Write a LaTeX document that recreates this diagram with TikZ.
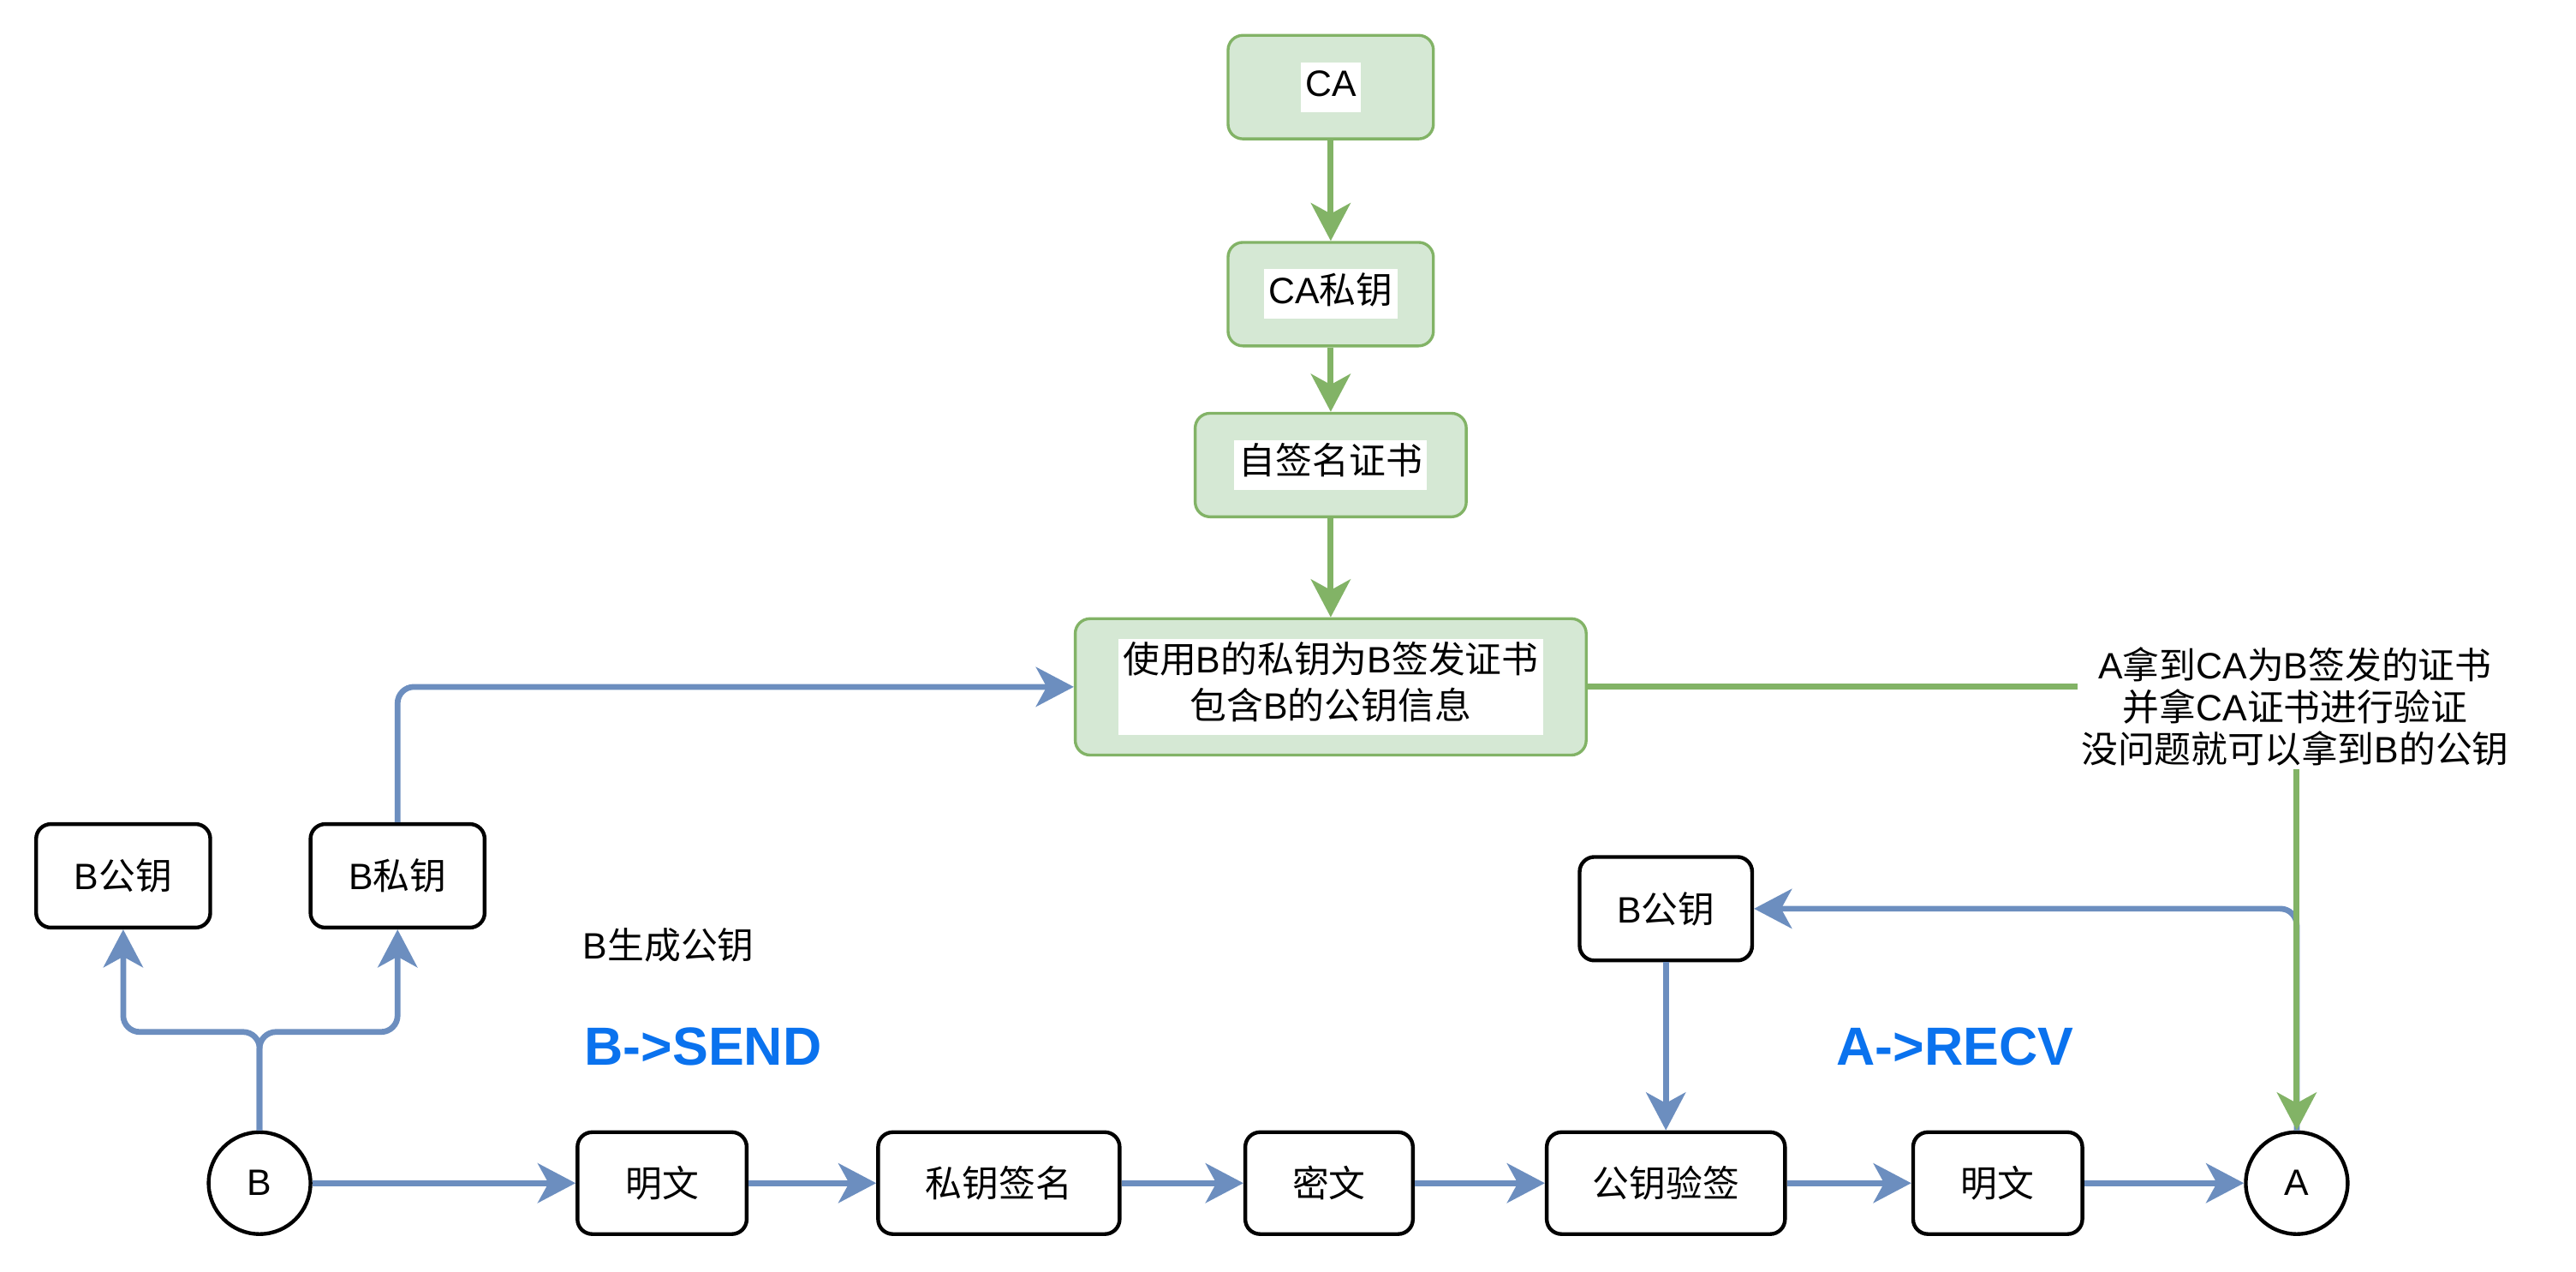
\documentclass[tikz,border=0pt]{standalone}
\usepackage{fontspec}
\setmainfont{Noto Sans CJK SC}
\newfontfamily\lat{Liberation Sans}
\usetikzlibrary{arrows.meta,positioning}
\definecolor{gfill}{HTML}{D5E8D4}
\definecolor{gline}{HTML}{82B366}
\definecolor{bline}{HTML}{6C8EBF}
\definecolor{tblue}{HTML}{0A72EE}
\setlength{\fboxsep}{0.6pt}
\newcommand\wlab[1]{\colorbox{white}{\fontsize{12.7}{16}\selectfont\begin{tabular}{@{\hspace{1pt}}c@{\hspace{1pt}}}#1\end{tabular}}}
\tikzset{
  every node/.style={font=\fontsize{12.7}{17}\selectfont},
  gbox/.style={draw=gline, fill=gfill, line width=1pt, rounded corners=1.8mm, minimum height=12.6mm, inner sep=0pt},
  wbox/.style={draw=black, line width=1.3pt, rounded corners=1.8mm, minimum height=12.4mm, inner sep=0pt},
  endpt/.style={draw=black, line width=1.3pt, circle, minimum size=12.4mm, inner sep=0pt},
  tip/.style={-{Stealth[length=4.6mm,width=4.8mm,inset=1.3mm]}},
  barrow/.style={draw=bline, line width=2pt, rounded corners=2mm},
  garrow/.style={draw=gline, line width=2.1pt},
  bigtext/.style={text=tblue, font=\fontsize{18.6}{22}\selectfont\lat\bfseries},
}
\begin{document}
\begin{tikzpicture}[x=0.2mm,y=-0.2mm]
\useasboundingbox (0,0) rectangle (1568,773.6);
\node[gbox, minimum width=25mm] (ca) at (810,53) {\wlab{\lat CA}};
\node[gbox, minimum width=25mm] (capriv) at (810,179) {\wlab{{\lat CA}私钥}};
\node[gbox, minimum width=33mm] (self) at (810,283) {\wlab{自签名证书}};
\node[gbox, minimum width=62.2mm, minimum height=16.6mm] (issue) at (810,418) {\wlab{使用{\lat B}的私钥为{\lat B}签发证书\\包含{\lat B}的公钥信息}};
\node[wbox, minimum width=21.2mm, minimum height=12.6mm] (bpub) at (75,533) {{\lat B}公钥};
\node[wbox, minimum width=21.2mm, minimum height=12.6mm] (bpriv) at (242,533) {{\lat B}私钥};
\node (gen) at (407,575) {{\lat B}生成公钥};
\node[bigtext] (send) at (428,637) {B->SEND};
\node[bigtext] (recv) at (1190,637) {A->RECV};
\node[endpt] (b) at (158,720) {\lat B};
\node[wbox, minimum width=20.6mm] (plain) at (403,720) {明文};
\node[wbox, minimum width=29.4mm] (sign) at (608,720) {私钥签名};
\node[wbox, minimum width=20.4mm] (cipher) at (809,720) {密文};
\node[wbox, minimum width=29mm] (verify) at (1014,720) {公钥验签};
\node[wbox, minimum width=20.6mm] (plainb) at (1216,720) {明文};
\node[endpt] (a) at (1398,720) {\lat A};
\node[wbox, minimum width=21mm, minimum height=12.6mm] (apub) at (1014,553) {{\lat B}公钥};
\node[align=center, inner sep=1pt, font=\fontsize{12.7}{14.6}\selectfont] (note) at (1397,430) {{\lat A}拿到{\lat CA}为{\lat B}签发的证书\\并拿{\lat CA}证书进行验证\\没问题就可以拿到{\lat B}的公钥};
\draw[garrow, tip] (ca) -- (capriv);
\draw[garrow, tip] (capriv) -- (self);
\draw[garrow, tip] (self) -- (issue);
\draw[barrow, tip] (b.north) -- (158,628) -| (bpub.south);
\draw[barrow, tip] (b.north) -- (158,628) -| (bpriv.south);
\draw[barrow, tip] (bpriv.north) |- (issue.west);
\draw[barrow, tip] (b) -- (plain);
\draw[barrow, tip] (plain) -- (sign);
\draw[barrow, tip] (sign) -- (cipher);
\draw[barrow, tip] (cipher) -- (verify);
\draw[barrow, tip] (verify) -- (plainb);
\draw[barrow, tip] (plainb) -- (a);
\draw[barrow, tip] (a.north) |- (apub.east);
\draw[barrow, tip] (apub) -- (verify);
\draw[garrow] (issue.east) -- (issue.east -| note.west);
\draw[garrow, tip] (a.north |- note.south) -- (a.north);
\end{tikzpicture}
\end{document}
